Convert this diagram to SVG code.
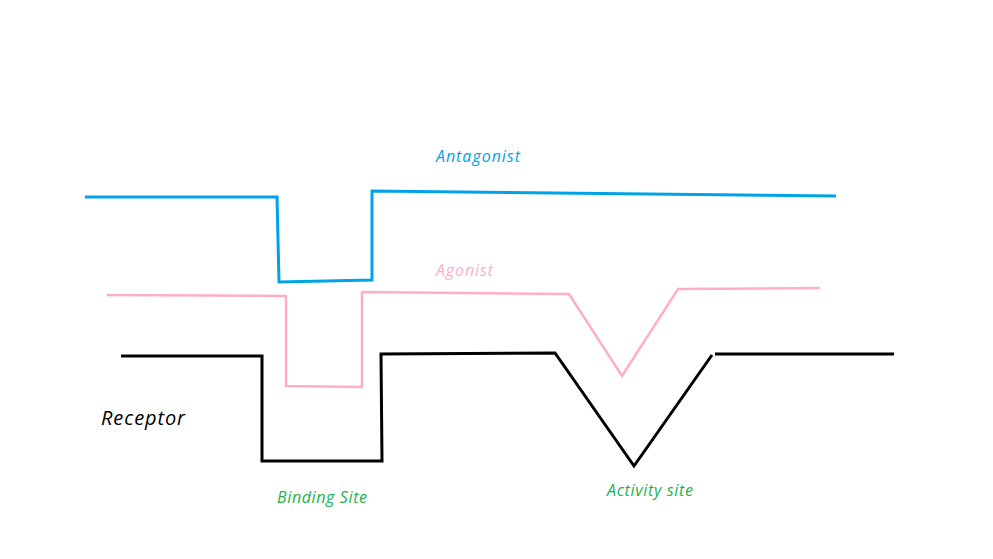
<svg xmlns="http://www.w3.org/2000/svg" width="993" height="559" viewBox="0 0 993 559">
<style>
.ln{fill:none;stroke-linejoin:miter;stroke-linecap:butt}
.t{font-family:"Open Sans","Liberation Sans",sans-serif;font-style:italic}
</style>
<rect width="993" height="559" fill="#fff"/>
<g id="antagonist">
<path class="ln" stroke="#00A2E8" stroke-width="3" d="M85,197 L277,197 L279,282 L372,280 L372,191 L836,196"/>
<text class="t" x="436" y="162" font-size="16" textLength="84" fill="#00A2E8">Antagonist</text>
</g>
<g id="agonist">
<path class="ln" stroke="#FFAEC9" stroke-width="2.5" d="M107,295 L286,296 L286,386 L362,387 L362,292 L569,294 L622,376 L678,289 L820,288"/>
<text class="t" x="436" y="276" font-size="16" textLength="57" fill="#FFAEC9">Agonist</text>
</g>
<g id="receptor">
<path class="ln" stroke="#000" stroke-width="3" d="M121,356 L262,356 L262,461 L382,461 L381,354 L555,353 L634,466 L712,355"/>
<path class="ln" stroke="#000" stroke-width="3" d="M715,354 L894,354"/>
<text class="t" x="101" y="425" font-size="20" textLength="84" fill="#000">Receptor</text>
</g>
<g id="labels">
<text class="t" x="277" y="503" font-size="16" textLength="90" fill="#22B14C">Binding Site</text>
<text class="t" x="607" y="496" font-size="16" textLength="86" fill="#22B14C">Activity site</text>
</g>
</svg>
